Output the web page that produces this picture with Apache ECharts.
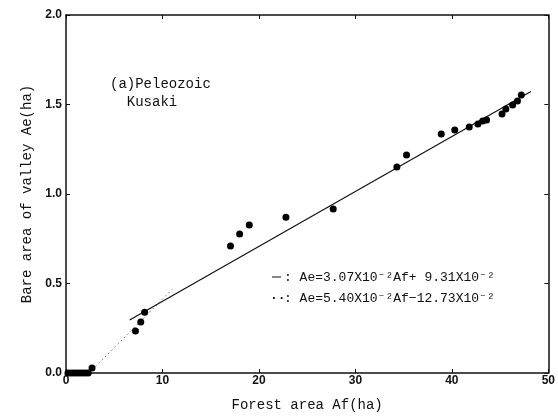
<!DOCTYPE html>
<html>
<head>
<meta charset="utf-8">
<script src="https://cdn.jsdelivr.net/npm/echarts@6/dist/echarts.min.js"></script>
<style>
  html, body { margin: 0; padding: 0; background: #fff; }
  #chart { width: 558px; height: 417px; }
</style>
</head>
<body>
<div id="chart"></div>
<script>
// observed points (Af, Ae)
const points = [
  [0.2, 0], [0.5, 0], [0.8, 0], [1.1, 0], [1.4, 0], [1.7, 0], [2.0, 0], [2.3, 0],
  [2.7, 0.028],
  [7.2, 0.235], [7.75, 0.285], [8.15, 0.34],
  [17.05, 0.71], [18.0, 0.777], [19.0, 0.827], [22.8, 0.87], [27.7, 0.916],
  [34.3, 1.151], [35.3, 1.218], [38.9, 1.335], [40.3, 1.358], [41.8, 1.374],
  [42.7, 1.391], [43.2, 1.408], [43.6, 1.413], [45.2, 1.447], [45.6, 1.475],
  [46.3, 1.497], [46.8, 1.52], [47.2, 1.553]
]
// end points of the two fitted lines
const solidLine = [[6.6, 0.296], [48.2, 1.573]]
const dottedLine = [[2.4, 0.0], [11.0, 0.467]]

const xTicks = [0, 10, 20, 30, 40, 50]
const yTicks = [0.0, 0.5, 1.0, 1.5, 2.0]

const mono = '"Liberation Mono", "DejaVu Sans Mono", monospace'
const tickFont = { fontFamily: 'Arial, "Liberation Sans", sans-serif', fontWeight: 'bold', fontSize: 12, color: '#111' }

const frameAxis = {
  axisLine: { show: true, onZero: false, lineStyle: { color: '#111', width: 1.5 } },
  axisTick: { show: true, inside: true, length: 4, lineStyle: { color: '#111' } },
  splitLine: { show: false }
}

const myChart = echarts.init(document.getElementById('chart'))

const option = {
  animation: false,
  grid: { left: 66, right: 8, top: 15, bottom: 44 },
  xAxis: [
    Object.assign({
      type: 'value', min: xTicks[0], max: xTicks[xTicks.length - 1], interval: 10,
      name: 'Forest area Af(ha)', nameLocation: 'middle', nameGap: 25,
      nameTextStyle: { fontFamily: mono, fontSize: 14, color: '#111' },
      axisLabel: Object.assign({ margin: 2 }, tickFont)
    }, frameAxis),
    Object.assign({
      type: 'value', min: xTicks[0], max: xTicks[xTicks.length - 1], interval: 10, position: 'top',
      axisLabel: { show: false }
    }, frameAxis)
  ],
  yAxis: [
    Object.assign({
      type: 'value', min: yTicks[0], max: yTicks[yTicks.length - 1], interval: 0.5,
      name: 'Bare area of valley Ae(ha)', nameLocation: 'middle', nameGap: 30,
      nameTextStyle: { fontFamily: mono, fontSize: 14, color: '#111' },
      axisLabel: Object.assign({ margin: 4, formatter: v => v.toFixed(1) }, tickFont)
    }, frameAxis),
    Object.assign({
      type: 'value', min: yTicks[0], max: yTicks[yTicks.length - 1], interval: 0.5, position: 'right',
      axisLabel: { show: false }
    }, frameAxis)
  ],
  series: [
    {
      type: 'line',
      data: dottedLine,
      symbol: 'none',
      lineStyle: { color: '#666', width: 1, type: [1.5, 3] }
    },
    {
      type: 'line',
      data: solidLine,
      symbol: 'none',
      lineStyle: { color: '#111', width: 1.2 }
    },
    {
      type: 'scatter',
      data: points,
      symbolSize: 7,
      itemStyle: { color: '#000', opacity: 1 },
      z: 5
    }
  ],
  graphic: [
    {
      type: 'text', left: 110, top: 75,
      style: { text: '(a)Peleozoic\n  Kusaki', font: '14px ' + mono, fill: '#111', lineHeight: 18 }
    },
    {
      type: 'line', shape: { x1: 272, y1: 277, x2: 281, y2: 277 },
      style: { stroke: '#111', lineWidth: 1 }
    },
    {
      type: 'text', left: 284, top: 271,
      style: { text: ': Ae=3.07X10⁻²Af+ 9.31X10⁻²', font: '13px ' + mono, fill: '#111' }
    },
    {
      type: 'text', left: 270, top: 292,
      style: { text: '··', font: 'bold 13px ' + mono, fill: '#111' }
    },
    {
      type: 'text', left: 284, top: 292,
      style: { text: ': Ae=5.40X10⁻²Af−12.73X10⁻²', font: '13px ' + mono, fill: '#111' }
    }
  ]
}

myChart.setOption(option)
</script>
</body>
</html>
